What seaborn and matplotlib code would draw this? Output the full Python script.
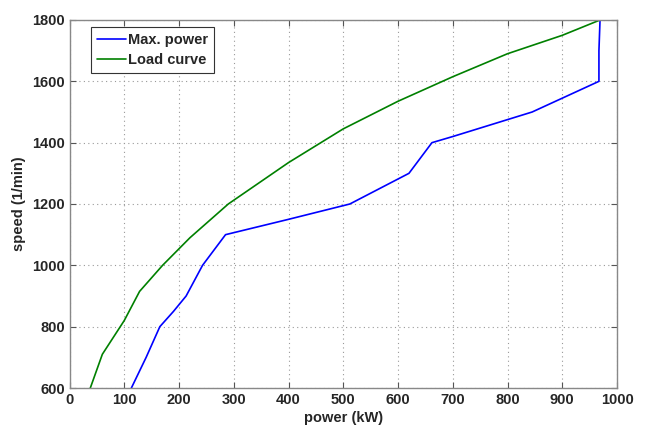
import matplotlib
matplotlib.use("Agg")
import matplotlib.pyplot as plt
import seaborn as sns
import pandas as pd

# Data
max_power_kw = [113, 140, 165, 190, 213, 243, 285, 400, 512, 620, 662, 700, 845, 967, 967, 969]
max_power_speed = [600, 700, 800, 850, 900, 1000, 1100, 1150, 1200, 1300, 1400, 1420, 1500, 1600, 1700, 1800]

load_kw = [38, 60, 100, 128, 170, 220, 290, 400, 500, 600, 700, 800, 900, 969]
load_speed = [600, 710, 820, 915, 1000, 1090, 1200, 1335, 1445, 1535, 1615, 1690, 1750, 1800]

x_ticks = [0, 100, 200, 300, 400, 500, 600, 700, 800, 900, 1000]
y_ticks = [600, 800, 1000, 1200, 1400, 1600, 1800]

df = pd.concat([
    pd.DataFrame({"power": max_power_kw, "speed": max_power_speed, "series": "Max. power"}),
    pd.DataFrame({"power": load_kw, "speed": load_speed, "series": "Load curve"}),
], ignore_index=True)

sns.set_style("white")
plt.rcParams['font.family'] = ['Liberation Sans', 'DejaVu Sans']

W, H = 646, 425
ax_l, ax_r, ax_t, ax_b = 69.5, 617, 20, 388
fig = plt.figure(figsize=(W / 100, H / 100), dpi=100)
ax = fig.add_axes([ax_l / W, (H - ax_b) / H, (ax_r - ax_l) / W, (ax_b - ax_t) / H])

sns.lineplot(data=df, x="power", y="speed", hue="series",
             palette={"Max. power": "#0000ff", "Load curve": "#008000"},
             sort=False, estimator=None, linewidth=1.2, ax=ax)

ax.set_xlim(0, 1000)
ax.set_ylim(600, 1800)
ax.set_xticks(x_ticks)
ax.set_yticks(y_ticks)
ax.set_xticklabels([str(v) for v in x_ticks], fontweight="bold", fontsize=10.5)
ax.set_yticklabels([str(v) for v in y_ticks], fontweight="bold", fontsize=10.5)
ax.set_xlabel("power (kW)", fontweight="bold", fontsize=10.5, labelpad=3)
ax.set_ylabel("speed (1/min)", fontweight="bold", fontsize=10.5, labelpad=4)

ax.grid(True, linestyle=(0, (1, 3)), color="#999999", linewidth=0.8)
ax.tick_params(direction="in", length=4, width=0.8, color="#555555", pad=3.5,
               top=True, right=True, bottom=True, left=True)
for s in ax.spines.values():
    s.set_color("#888888")
    s.set_linewidth(1.0)

aw, ah = ax_r - ax_l, ax_b - ax_t
leg = ax.legend(loc="upper left", bbox_to_anchor=(21.5 / aw, 1 - 7 / ah),
                borderaxespad=0, fancybox=False,
                framealpha=1, edgecolor="#333333", handlelength=2.0,
                handletextpad=0.15, borderpad=0.4, labelspacing=0.45,
                prop={"weight": "bold", "size": 10.5})
leg.get_frame().set_linewidth(0.8)

fig.savefig("out.png", dpi=100, facecolor="white")
